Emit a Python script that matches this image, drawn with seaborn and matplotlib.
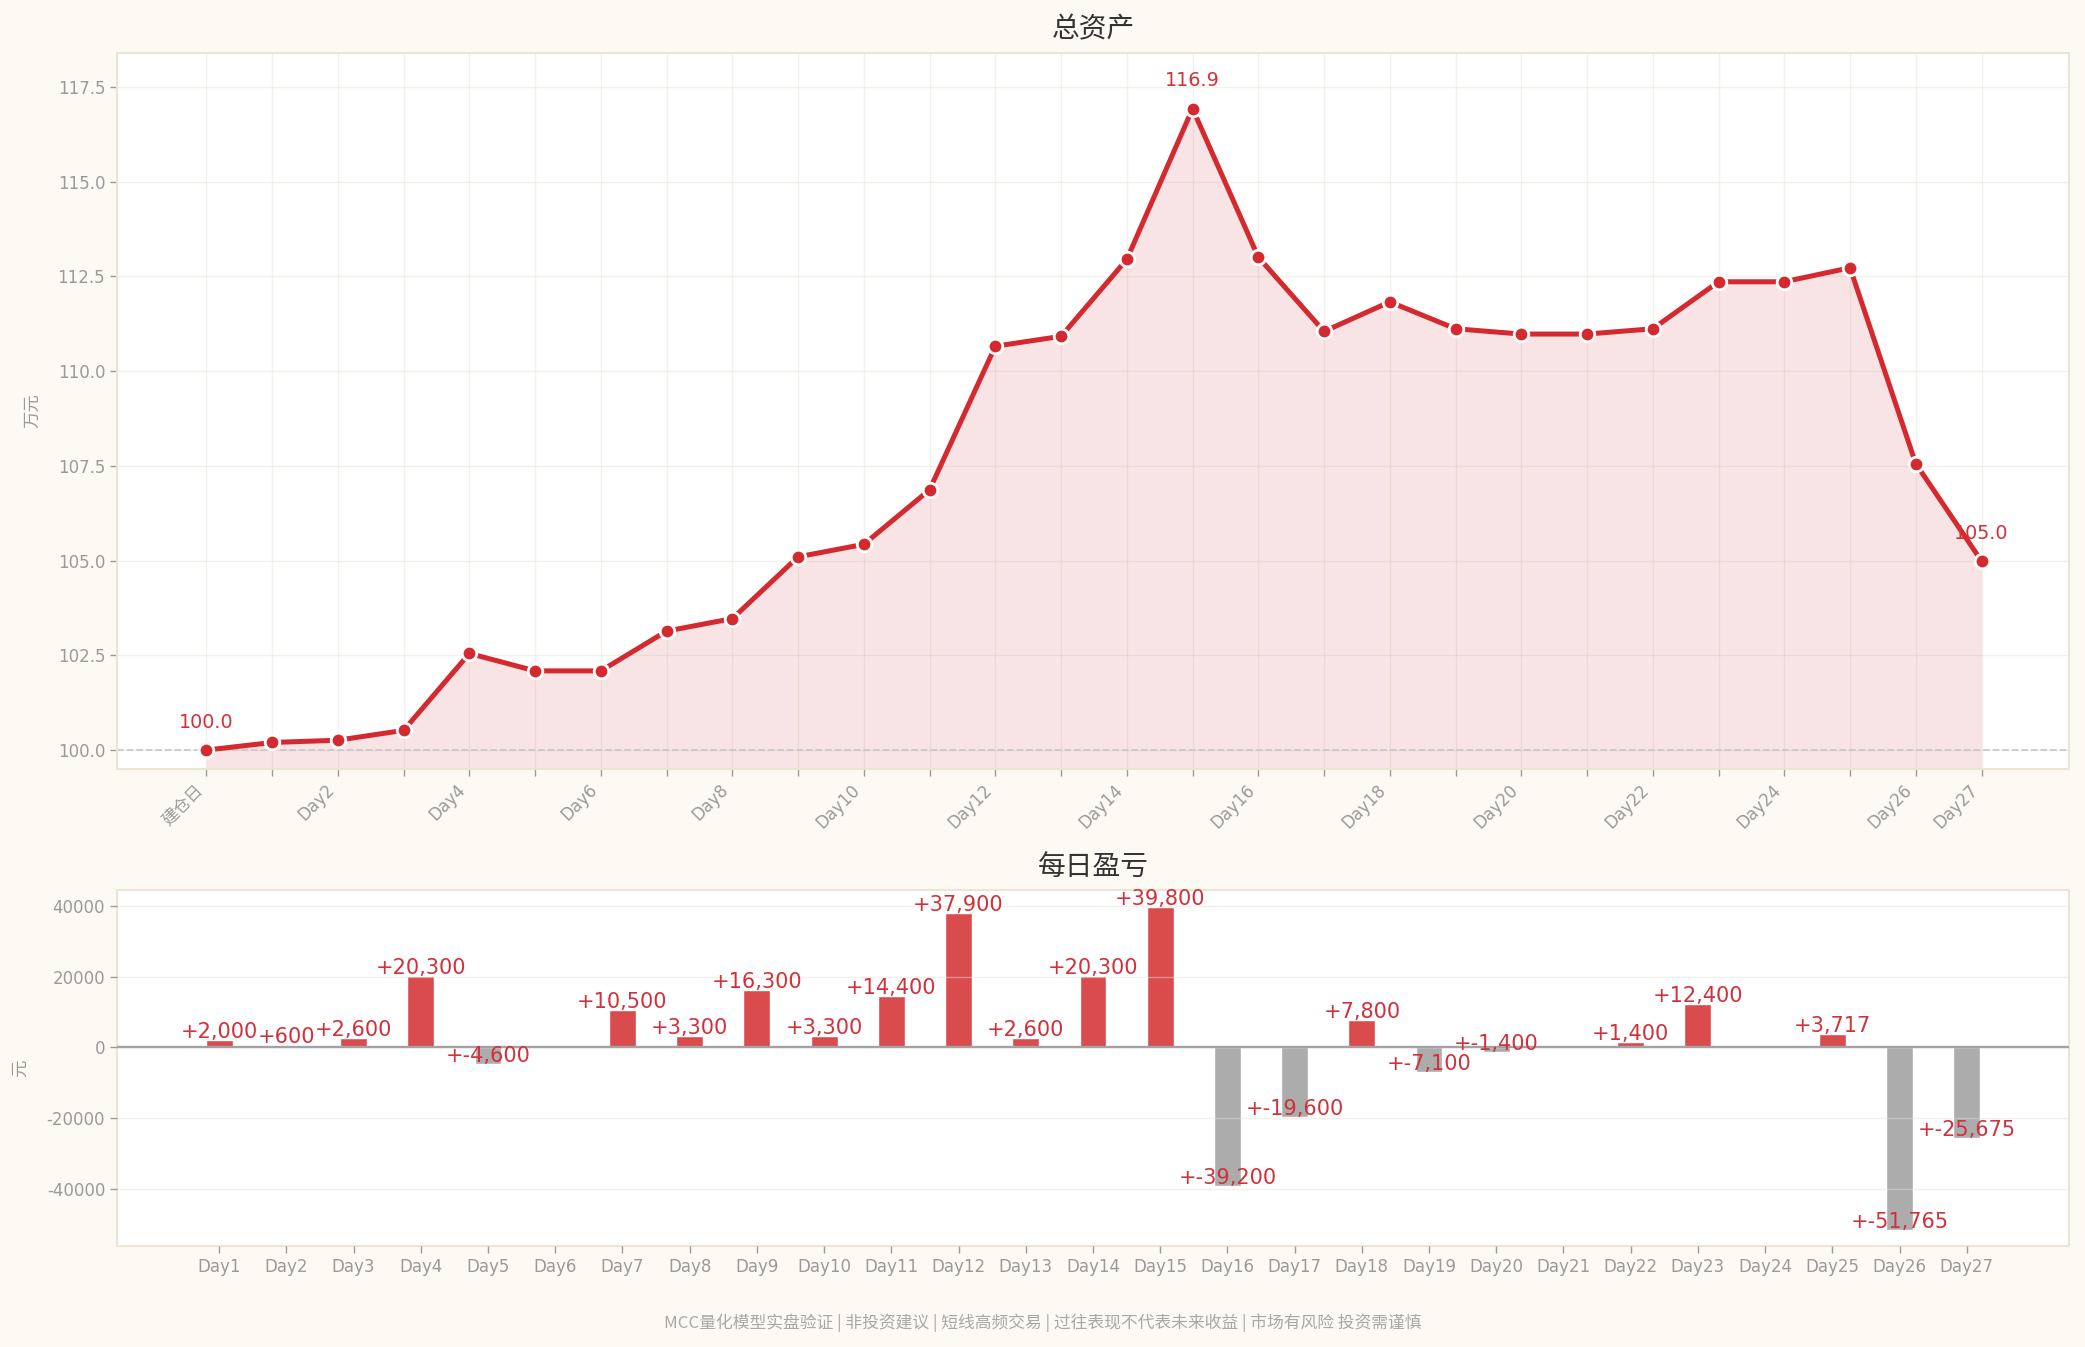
import numpy as np
import pandas as pd
import matplotlib
matplotlib.use('Agg')
import matplotlib.pyplot as plt
import seaborn as sns

# ---------------- data ----------------
asset_labels = ['建仓日', 'Day1', 'Day2', 'Day3', 'Day4', 'Day5', 'Day6', 'Day7', 'Day8', 'Day9',
                'Day10', 'Day11', 'Day12', 'Day13', 'Day14', 'Day15', 'Day16', 'Day17', 'Day18',
                'Day19', 'Day20', 'Day21', 'Day22', 'Day23', 'Day24', 'Day25', 'Day26', 'Day27']
total_assets = [100.00, 100.20, 100.26, 100.52, 102.55, 102.09, 102.09, 103.14, 103.47, 105.10,
                105.43, 106.87, 110.66, 110.92, 112.95, 116.93, 113.01, 111.05, 111.83, 111.12,
                110.98, 110.98, 111.12, 112.36, 112.36, 112.73, 107.56, 104.99]
top_shown_labels = ['建仓日', 'Day2', 'Day4', 'Day6', 'Day8', 'Day10', 'Day12', 'Day14', 'Day16',
                    'Day18', 'Day20', 'Day22', 'Day24', 'Day26', 'Day27']

pnl_days = ['Day1', 'Day2', 'Day3', 'Day4', 'Day5', 'Day6', 'Day7', 'Day8', 'Day9', 'Day10',
            'Day11', 'Day12', 'Day13', 'Day14', 'Day15', 'Day16', 'Day17', 'Day18', 'Day19',
            'Day20', 'Day21', 'Day22', 'Day23', 'Day24', 'Day25', 'Day26', 'Day27']
daily_pnl = [2000, 600, 2600, 20300, -4600, 0, 10500, 3300, 16300, 3300,
             14400, 37900, 2600, 20300, 39800, -39200, -19600, 7800, -7100,
             -1400, 0, 1400, 12400, 0, 3717, -51765, -25675]
pnl_yticks = [-40000, -20000, 0, 20000, 40000]

title_top = '总资产'
title_bottom = '每日盈亏'
ylabel_top = '万元'
ylabel_bottom = '元'
footer = 'MCC量化模型实盘验证 | 非投资建议 | 短线高频交易 | 过往表现不代表未来收益 | 市场有风险 投资需谨慎'

# ---------------- style ----------------
sns.set_style('white')
plt.rcParams['font.family'] = ['DejaVu Sans', 'Noto Sans CJK SC']
plt.rcParams['axes.unicode_minus'] = False
CJK = ['Noto Sans CJK SC', 'DejaVu Sans']

BG = '#fdfaf3'
RED = '#d3292f'
TXT_RED = '#d0313a'
BAR_RED = '#da4b4e'
BAR_GRAY = '#acacac'
TICK = '#9a9a9a'
SPINE = '#ece5d5'
GRID = '#e6e0d4'

fig = plt.figure(figsize=(20.85, 13.47), dpi=100, facecolor=BG)
ax1 = fig.add_axes([0.0561, 0.4291, 0.9362, 0.5316])
ax2 = fig.add_axes([0.0561, 0.075, 0.9362, 0.2643])

# ---------------- top: total assets ----------------
y_lo, y_hi = 99.5, 118.4
x = np.arange(len(total_assets))
df1 = pd.DataFrame({'idx': x, 'asset': total_assets})
ax1.fill_between(df1['idx'], df1['asset'], y_lo, color=RED, alpha=0.12, lw=0, zorder=1)
ax1.axhline(100, color='#c9c9c9', ls='--', lw=1.3, zorder=2)
sns.lineplot(data=df1, x='idx', y='asset', ax=ax1, color=RED, lw=3.6, marker='o',
             markersize=10.5, markeredgecolor='white', markeredgewidth=2.0, zorder=4)

ax1.set_xlim(-1.36, 28.33)
ax1.set_ylim(y_lo, y_hi)
ax1.set_xticks(x)
ax1.set_xticklabels([lab if lab in top_shown_labels else '' for lab in asset_labels],
                    rotation=45, ha='right')
ax1.set_yticks(np.arange(100, 117.6, 2.5))
ax1.set_yticklabels([f'{v:.1f}' for v in np.arange(100, 117.6, 2.5)])
ax1.grid(True, color=GRID, lw=1, alpha=0.45)
ax1.set_axisbelow(True)

imax = int(np.argmax(total_assets))
for i in sorted({0, imax, len(total_assets) - 1}):
    v = total_assets[i]
    ax1.annotate(f'{v:.1f}', (i, v), xytext=(0, 28), textcoords='offset pixels',
                 ha='center', va='center', color=TXT_RED, fontsize=13.8, zorder=5)

ax1.set_title(title_top, fontsize=20, color='#333333', pad=11, family=CJK)
ax1.set_xlabel('')
ax1.set_ylabel(ylabel_top, fontsize=12.5, color=TICK, family=CJK)
ax1.yaxis.set_label_coords(-0.039, 0.5)

# ---------------- bottom: daily pnl ----------------
df2 = pd.DataFrame({'day': pnl_days, 'pnl': daily_pnl,
                    'sign': ['pos' if v >= 0 else 'neg' for v in daily_pnl]})
sns.barplot(data=df2, x='day', y='pnl', hue='sign', order=pnl_days,
            palette={'pos': BAR_RED, 'neg': BAR_GRAY}, dodge=False, width=0.4,
            saturation=1, legend=False, ax=ax2)
ax2.axhline(0, color='#a3a3a3', lw=1.7, zorder=3)
ax2.set_xlim(-1.52, 27.52)
ax2.set_ylim(-56150, 44500)
ax2.set_yticks(pnl_yticks)
ax2.set_yticklabels([f'{v:d}' for v in pnl_yticks])
ax2.grid(axis='y', color=GRID, lw=1, alpha=0.45)
ax2.grid(axis='x', visible=False)
ax2.set_axisbelow(False)

for i, v in enumerate(daily_pnl):
    if v == 0:
        continue
    ax2.annotate(f'+{v:,}', (i, v), xytext=(0, 8), textcoords='offset pixels',
                 ha='center', va='center', color=TXT_RED, fontsize=15, zorder=6)

ax2.set_title(title_bottom, fontsize=20, color='#333333', pad=11, family=CJK)
ax2.set_xlabel('')
ax2.set_ylabel(ylabel_bottom, fontsize=12.5, color=TICK, family=CJK)
ax2.yaxis.set_label_coords(-0.045, 0.5)

# ---------------- common axis styling ----------------
for ax in (ax1, ax2):
    ax.set_facecolor('white')
    for sp in ax.spines.values():
        sp.set_visible(True)
        sp.set_color(SPINE)
        sp.set_linewidth(1.5)
    ax.tick_params(axis='both', colors=TICK, labelcolor=TICK, labelsize=12,
                   length=5, width=1, bottom=True, left=True)

fig.text(0.5, 0.0178, footer, ha='center', va='center', fontsize=12.1,
         color='#a8a8a8', family=CJK)

fig.savefig('out.png', dpi=100, facecolor=BG)
